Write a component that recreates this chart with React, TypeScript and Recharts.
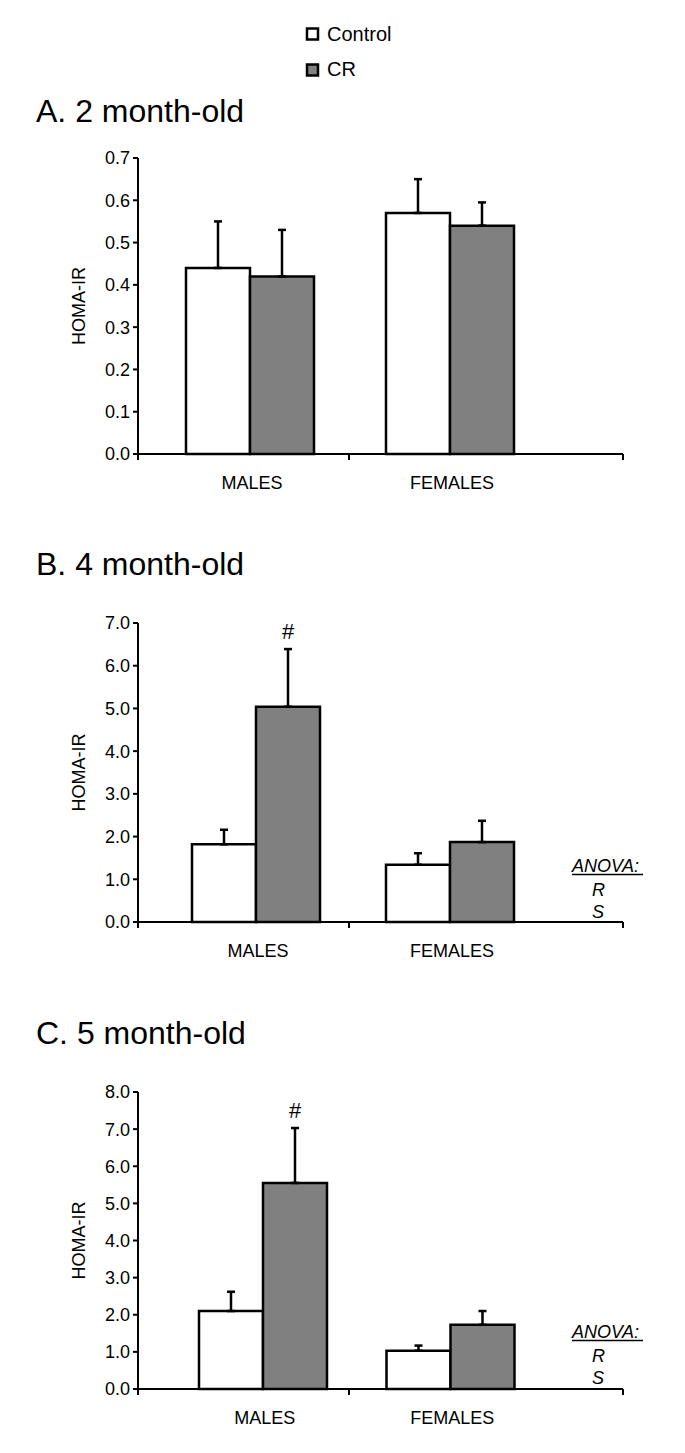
import React from "react";
import { Bar, BarChart, ErrorBar, LabelList, XAxis, YAxis } from "recharts";

const groups = ["MALES", "FEMALES"];

// A. 2 month-old
const controlA = [0.44, 0.57];
const controlSeA = [0.11, 0.08];
const crA = [0.42, 0.54];
const crSeA = [0.11, 0.055];
const marksA = ["", ""];
const ticksA = [0, 0.1, 0.2, 0.3, 0.4, 0.5, 0.6, 0.7];

// B. 4 month-old
const controlB = [1.82, 1.34];
const controlSeB = [0.34, 0.27];
const crB = [5.04, 1.87];
const crSeB = [1.35, 0.5];
const marksB = ["#", ""];
const ticksB = [0, 1, 2, 3, 4, 5, 6, 7];

// C. 5 month-old
const controlC = [2.1, 1.03];
const controlSeC = [0.52, 0.14];
const crC = [5.55, 1.73];
const crSeC = [1.48, 0.37];
const marksC = ["#", ""];
const ticksC = [0, 1, 2, 3, 4, 5, 6, 7, 8];

const FONT = "'Liberation Sans', Arial, sans-serif";
const PLOT_LEFT = 138;
const PLOT_RIGHT = 623;
const MID_TICK = 349;
const X_AXIS_H = 30;

type Row = {
  group: string;
  control: number;
  cr: number;
  controlErr: [number, number];
  crErr: [number, number];
  mark: string;
};

function buildRows(
  control: number[],
  controlSe: number[],
  cr: number[],
  crSe: number[],
  marks: string[]
): Row[] {
  return groups.map((g, i) => ({
    group: g,
    control: control[i],
    cr: cr[i],
    controlErr: [0, controlSe[i]],
    crErr: [0, crSe[i]],
    mark: marks[i],
  }));
}

function GroupTick(props: any) {
  const { x, y, payload, index } = props;
  return (
    <g>
      {index === 0 &&
        [PLOT_LEFT, MID_TICK, PLOT_RIGHT].map((tx) => (
          <line key={tx} x1={tx} x2={tx} y1={y} y2={y + 6} stroke="#000" strokeWidth={2} />
        ))}
      <text x={x + 2} y={y + 35} textAnchor="middle" fontSize={18} fill="#000" fontFamily={FONT}>
        {payload.value}
      </text>
    </g>
  );
}

type PanelProps = {
  rows: Row[];
  ticks: number[];
  plotTop: number;
  plotHeight: number;
  padLeft: number;
  padRight: number;
};

function Panel({ rows, ticks, plotTop, plotHeight, padLeft, padRight }: PanelProps) {
  const top = plotTop - 30;
  const markLabel = (p: any) => {
    const { x, y, width, height, value, index } = p;
    if (!value) return null;
    const row = rows[index];
    const errTop = y - (row.crErr[1] * height) / row.cr;
    return (
      <text x={x + width / 2} y={errTop - 10} textAnchor="middle" fontSize={22} fill="#000" fontFamily={FONT}>
        {value}
      </text>
    );
  };
  return (
    <div style={{ position: "absolute", left: 0, top }}>
      <BarChart
        width={685}
        height={plotHeight + 30 + X_AXIS_H + 30}
        data={rows}
        margin={{ top: 30, right: 685 - PLOT_RIGHT, bottom: 30, left: PLOT_LEFT - 60 }}
        barGap={0}
        barSize={64}
      >
        <XAxis
          dataKey="group"
          height={X_AXIS_H}
          padding={{ left: padLeft, right: padRight }}
          axisLine={{ stroke: "#000", strokeWidth: 2 }}
          tickLine={false}
          tickSize={0}
          tickMargin={0}
          tick={<GroupTick />}
          interval={0}
        />
        <YAxis
          width={60}
          domain={[0, ticks[ticks.length - 1]]}
          ticks={ticks}
          interval={0}
          tickFormatter={(v: number) => v.toFixed(1)}
          axisLine={{ stroke: "#000", strokeWidth: 2 }}
          tickLine={{ stroke: "#000", strokeWidth: 2 }}
          tickSize={5}
          tickMargin={3}
          tick={{ fill: "#000", fontSize: 18, fontFamily: FONT }}
          label={{
            content: (lp: any) => {
              const vb = lp.viewBox;
              const cy = vb.y + vb.height / 2;
              return (
                <text
                  x={79}
                  y={cy}
                  transform={`rotate(-90, 79, ${cy})`}
                  textAnchor="middle"
                  dominantBaseline="central"
                  fontSize={18}
                  fill="#000"
                  fontFamily={FONT}
                >
                  HOMA-IR
                </text>
              );
            },
          }}
        />
        <Bar dataKey="control" fill="#ffffff" stroke="#000" strokeWidth={2.5} isAnimationActive={false}>
          <ErrorBar dataKey="controlErr" direction="y" width={4} stroke="#000" strokeWidth={2.5} />
        </Bar>
        <Bar dataKey="cr" fill="#808080" stroke="#000" strokeWidth={2.5} isAnimationActive={false}>
          <ErrorBar dataKey="crErr" direction="y" width={4} stroke="#000" strokeWidth={2.5} />
          <LabelList dataKey="mark" content={markLabel} />
        </Bar>
      </BarChart>
    </div>
  );
}

function Anova({ baseline }: { baseline: number }) {
  return (
    <g fontFamily={FONT} fontStyle="italic" fontSize={18} fill="#000">
      <text x={572} y={baseline}>ANOVA:</text>
      <line x1={572} x2={643} y1={baseline + 2.5} y2={baseline + 2.5} stroke="#000" strokeWidth={1.3} />
      <text x={592} y={baseline + 24}>R</text>
      <text x={592} y={baseline + 46}>S</text>
    </g>
  );
}

export default function App() {
  const rowsA = buildRows(controlA, controlSeA, crA, crSeA, marksA);
  const rowsB = buildRows(controlB, controlSeB, crB, crSeB, marksB);
  const rowsC = buildRows(controlC, controlSeC, crC, crSeC, marksC);
  return (
    <div style={{ position: "absolute", left: 0, top: 0, width: 685, height: 1453, background: "#fff" }}>
      <Panel rows={rowsA} ticks={ticksA} plotTop={158} plotHeight={296} padLeft={12} padRight={73} />
      <Panel rows={rowsB} ticks={ticksB} plotTop={623} plotHeight={299} padLeft={21} padRight={76} />
      <Panel rows={rowsC} ticks={ticksC} plotTop={1092} plotHeight={297} padLeft={31} padRight={79} />
      <svg
        width={685}
        height={1453}
        style={{ position: "absolute", left: 0, top: 0, pointerEvents: "none" }}
      >
        <g fontFamily={FONT} fill="#000">
          <rect x={307} y={28.5} width={11} height={11} fill="#fff" stroke="#000" strokeWidth={2.5} />
          <text x={327} y={40.5} fontSize={20}>Control</text>
          <rect x={307} y={64.5} width={11} height={11} fill="#808080" stroke="#000" strokeWidth={2.5} />
          <text x={327} y={76} fontSize={20}>CR</text>
          <text x={36} y={122} fontSize={32}>A. 2 month-old</text>
          <text x={36} y={575} fontSize={32}>B. 4 month-old</text>
          <text x={36} y={1044} fontSize={32}>C. 5 month-old</text>
        </g>
        <Anova baseline={872} />
        <Anova baseline={1338} />
      </svg>
    </div>
  );
}
